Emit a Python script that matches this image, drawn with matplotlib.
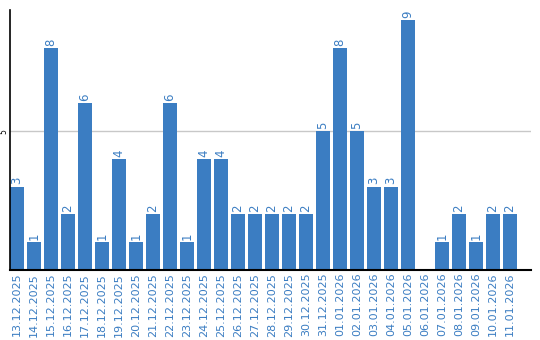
import matplotlib as mpl
mpl.use('Agg')
import matplotlib.pyplot as plt

days = ['13.12.2025', '14.12.2025', '15.12.2025', '16.12.2025', '17.12.2025',
        '18.12.2025', '19.12.2025', '20.12.2025', '21.12.2025', '22.12.2025',
        '23.12.2025', '24.12.2025', '25.12.2025', '26.12.2025', '27.12.2025',
        '28.12.2025', '29.12.2025', '30.12.2025', '31.12.2025', '01.01.2026',
        '02.01.2026', '03.01.2026', '04.01.2026', '05.01.2026', '06.01.2026',
        '07.01.2026', '08.01.2026', '09.01.2026', '10.01.2026', '11.01.2026']
counts = [3, 1, 8, 2, 6, 1, 4, 1, 2, 6, 1, 4, 4, 2, 2, 2, 2, 2, 5, 8,
          5, 3, 3, 9, 0, 1, 2, 1, 2, 2]

blue = '#3b7dc2'

fig = plt.figure(figsize=(5.4, 3.4), dpi=100)
ax = fig.add_axes([10/540, 1 - 270/340, 521/540, 260/340])

x = list(range(len(days)))
ax.bar(x, counts, width=0.82, color=blue, zorder=2)

for i, v in zip(x, counts):
    if v > 0:
        ax.text(i, v + 0.08, str(v), rotation=90, ha='center', va='bottom',
                color=blue, fontsize=8.5)

ax.set_xlim(-0.41, 30.24)
ax.set_ylim(0, 9.36)
ax.axhline(5, color='#c8c8c8', linewidth=1, zorder=1)

ax.set_xticks(x)
ax.set_xticklabels(days, rotation=90, color=blue, fontsize=8)
ax.set_yticks([5])
ax.set_yticklabels(['5'], rotation=90, fontsize=5.5, va='center')
ax.tick_params(axis='x', length=0, pad=2)
ax.tick_params(axis='y', length=0, pad=1)

for s in ['top', 'right']:
    ax.spines[s].set_visible(False)
ax.spines['left'].set_linewidth(1.2)
ax.spines['bottom'].set_linewidth(1.5)

fig.savefig('out.png', dpi=100)
